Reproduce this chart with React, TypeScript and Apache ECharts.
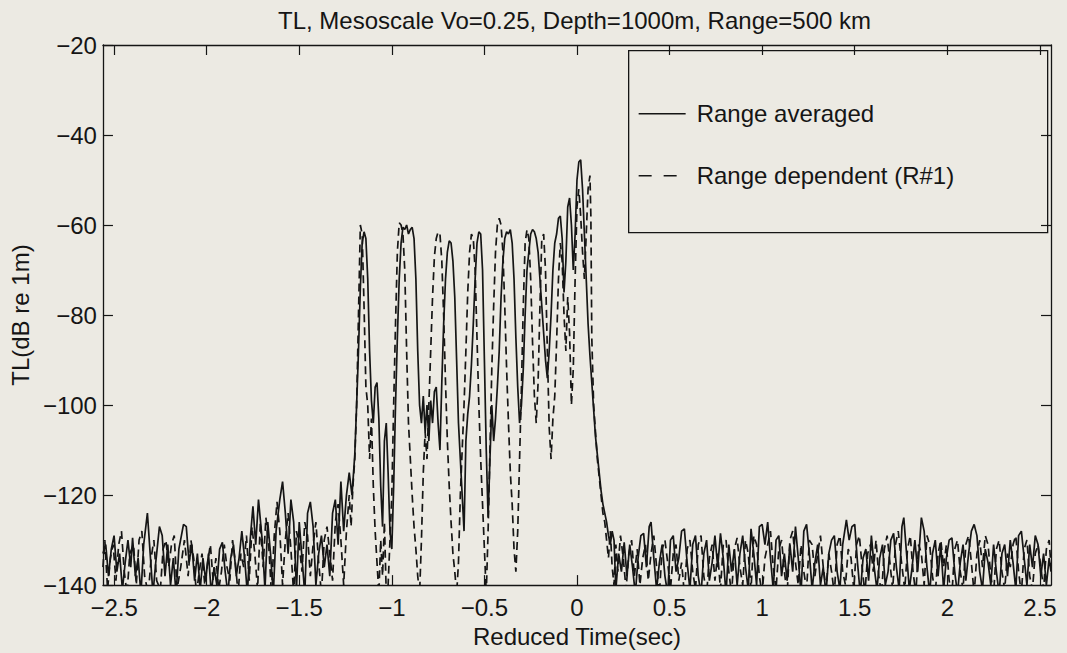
import React, { useEffect, useRef } from "react";
import * as echarts from "echarts";

const titleText = "TL, Mesoscale Vo=0.25, Depth=1000m, Range=500 km";
const xName = "Reduced Time(sec)";
const yName = "TL(dB re 1m)";
const seriesNames = ["Range averaged", "Range dependent (R#1)"];
const xTicks = [-2.5, -2, -1.5, -1, -0.5, 0, 0.5, 1, 1.5, 2, 2.5];
const yTicks = [-140, -120, -100, -80, -60, -40, -20];

// Range averaged (solid)
const rangeAveraged: [number, number][] = [
  [-2.56, -133], [-2.545, -131], [-2.53, -138], [-2.515, -132], [-2.5, -129], [-2.485, -137], [-2.47, -133],
  [-2.455, -141], [-2.44, -135], [-2.425, -130], [-2.41, -136], [-2.4, -129.5], [-2.385, -138], [-2.37, -134],
  [-2.355, -142], [-2.34, -131], [-2.32, -124], [-2.305, -133], [-2.29, -142], [-2.275, -135], [-2.255, -127],
  [-2.24, -129], [-2.225, -138], [-2.21, -131], [-2.195, -140], [-2.18, -134], [-2.165, -142], [-2.15, -132],
  [-2.125, -126.5], [-2.11, -127], [-2.095, -135], [-2.08, -131], [-2.065, -139], [-2.05, -133], [-2.035, -141],
  [-2.02, -134], [-2.005, -139], [-1.99, -133], [-1.975, -142], [-1.96, -136], [-1.945, -140], [-1.93, -132],
  [-1.915, -130.5], [-1.9, -137], [-1.885, -142], [-1.87, -134], [-1.855, -131], [-1.84, -138], [-1.825, -134],
  [-1.81, -128], [-1.795, -134], [-1.78, -142], [-1.765, -130], [-1.75, -122.5], [-1.735, -131], [-1.72, -121],
  [-1.7, -130], [-1.685, -141], [-1.67, -126], [-1.655, -133], [-1.64, -142], [-1.625, -128], [-1.605, -121],
  [-1.59, -117], [-1.575, -124], [-1.56, -133], [-1.545, -121], [-1.53, -126], [-1.515, -141], [-1.5, -126],
  [-1.485, -134], [-1.47, -142], [-1.455, -124], [-1.44, -121.5], [-1.425, -127], [-1.41, -140], [-1.395, -133],
  [-1.38, -129], [-1.365, -136], [-1.35, -131], [-1.335, -138], [-1.32, -124], [-1.305, -121], [-1.29, -131],
  [-1.275, -117], [-1.26, -128], [-1.245, -120], [-1.23, -115], [-1.215, -120], [-1.2, -111], [-1.19, -100],
  [-1.18, -88], [-1.17, -74], [-1.16, -64], [-1.15, -61.5], [-1.14, -63], [-1.13, -72], [-1.12, -88],
  [-1.11, -99], [-1.1, -104], [-1.09, -96], [-1.08, -95], [-1.07, -103], [-1.06, -118], [-1.05, -127],
  [-1.04, -108], [-1.03, -104], [-1.02, -115], [-1.01, -128], [-1.0, -132], [-0.99, -118], [-0.98, -100],
  [-0.97, -85], [-0.96, -72], [-0.95, -64], [-0.94, -60.5], [-0.93, -61], [-0.92, -60], [-0.91, -62],
  [-0.9, -61], [-0.89, -60.5], [-0.88, -63], [-0.87, -72], [-0.86, -88], [-0.85, -100], [-0.84, -104],
  [-0.83, -98], [-0.82, -106], [-0.81, -100], [-0.8, -108], [-0.79, -99], [-0.78, -104], [-0.77, -97],
  [-0.76, -96], [-0.75, -104], [-0.74, -110], [-0.73, -95], [-0.72, -82], [-0.71, -72], [-0.7, -66],
  [-0.69, -63.5], [-0.68, -64], [-0.67, -68], [-0.66, -76], [-0.65, -90], [-0.64, -104], [-0.63, -112],
  [-0.62, -120], [-0.61, -128], [-0.6, -108], [-0.59, -102], [-0.58, -98], [-0.57, -91], [-0.56, -82],
  [-0.55, -72], [-0.54, -64], [-0.53, -61.5], [-0.52, -62], [-0.51, -70], [-0.5, -90], [-0.49, -110],
  [-0.48, -125], [-0.47, -112], [-0.46, -100], [-0.45, -108], [-0.44, -103], [-0.43, -96], [-0.42, -88],
  [-0.41, -76], [-0.4, -68], [-0.39, -63], [-0.38, -61.5], [-0.37, -62], [-0.36, -61], [-0.35, -64],
  [-0.34, -72], [-0.33, -85], [-0.32, -96], [-0.31, -104], [-0.3, -100], [-0.29, -92], [-0.28, -80],
  [-0.27, -70], [-0.26, -66], [-0.25, -62], [-0.24, -61], [-0.23, -61.5], [-0.22, -63], [-0.21, -66],
  [-0.2, -72], [-0.19, -78], [-0.18, -84], [-0.17, -90], [-0.16, -94], [-0.15, -88], [-0.14, -80],
  [-0.13, -70], [-0.12, -64], [-0.11, -62], [-0.1, -58.5], [-0.09, -58], [-0.08, -63], [-0.07, -75],
  [-0.06, -68], [-0.05, -56], [-0.04, -54], [-0.03, -60], [-0.02, -70], [-0.01, -62], [0.0, -50],
  [0.01, -46], [0.02, -45.5], [0.03, -52], [0.04, -62], [0.05, -72], [0.06, -82], [0.07, -89],
  [0.08, -95], [0.09, -101], [0.1, -107], [0.11, -111], [0.12, -115], [0.13, -119], [0.14, -122],
  [0.15, -124], [0.16, -126], [0.17, -129], [0.18, -131], [0.19, -128], [0.2, -130], [0.21, -141],
  [0.225, -133], [0.24, -137], [0.255, -130.5], [0.27, -138], [0.285, -131], [0.3, -136], [0.315, -142],
  [0.33, -134], [0.345, -129], [0.36, -128.5], [0.375, -136], [0.39, -127], [0.4, -126], [0.415, -134],
  [0.43, -141], [0.445, -135], [0.46, -131], [0.475, -138], [0.49, -142], [0.505, -130], [0.52, -129],
  [0.535, -137], [0.55, -134], [0.565, -128], [0.58, -127.5], [0.595, -135], [0.61, -141], [0.625, -131],
  [0.64, -129], [0.655, -138], [0.67, -142], [0.685, -133], [0.7, -130], [0.715, -139], [0.73, -135],
  [0.745, -129], [0.76, -136], [0.775, -128.5], [0.79, -134], [0.805, -142], [0.82, -131], [0.835, -137],
  [0.85, -132], [0.865, -140], [0.88, -133], [0.895, -129], [0.91, -136], [0.925, -141], [0.94, -127.5],
  [0.955, -133], [0.97, -140], [0.985, -127], [1.0, -126.5], [1.015, -131], [1.03, -126], [1.045, -134],
  [1.06, -141], [1.075, -130], [1.09, -129], [1.105, -138], [1.12, -133], [1.135, -139], [1.15, -131],
  [1.165, -137], [1.18, -127], [1.195, -134], [1.21, -142], [1.225, -128], [1.24, -126.5], [1.255, -133],
  [1.27, -141], [1.285, -135], [1.3, -131], [1.315, -140], [1.33, -136], [1.345, -142], [1.36, -133],
  [1.375, -130], [1.39, -129], [1.405, -137], [1.42, -141], [1.435, -131], [1.455, -125.5], [1.47, -130],
  [1.485, -127], [1.5, -126.5], [1.515, -135], [1.53, -142], [1.545, -134], [1.56, -132], [1.575, -139],
  [1.59, -129], [1.605, -136], [1.62, -141], [1.635, -134], [1.65, -131], [1.665, -140], [1.68, -137],
  [1.695, -130], [1.71, -128.5], [1.725, -136], [1.74, -141], [1.755, -127], [1.765, -125], [1.78, -133],
  [1.795, -141], [1.81, -136], [1.825, -130], [1.84, -137], [1.86, -125], [1.875, -128], [1.89, -136],
  [1.905, -142], [1.92, -133], [1.935, -130], [1.95, -138], [1.965, -131], [1.98, -141], [1.995, -134],
  [2.01, -130], [2.025, -129.5], [2.04, -137], [2.055, -142], [2.07, -135], [2.085, -131], [2.1, -139],
  [2.115, -133], [2.13, -128], [2.145, -126.5], [2.16, -129], [2.175, -137], [2.19, -141], [2.205, -132],
  [2.22, -135], [2.235, -140], [2.25, -131], [2.265, -137], [2.28, -142], [2.295, -133], [2.31, -131],
  [2.325, -138], [2.34, -130], [2.355, -135], [2.37, -141], [2.385, -129], [2.4, -128], [2.415, -134],
  [2.43, -140], [2.445, -131], [2.46, -136], [2.475, -129], [2.49, -131], [2.505, -138], [2.52, -133],
  [2.535, -140], [2.55, -134], [2.56, -137],
];

// Range dependent (R#1) (dashed)
const rangeDependent: [number, number][] = [
  [-2.56, -136], [-2.55, -130], [-2.535, -141], [-2.52, -134], [-2.505, -131], [-2.49, -139], [-2.475, -131],
  [-2.46, -128], [-2.445, -137], [-2.43, -142], [-2.415, -133], [-2.395, -131], [-2.38, -140], [-2.365, -130],
  [-2.35, -128], [-2.335, -138], [-2.315, -142], [-2.3, -134], [-2.285, -130], [-2.27, -139], [-2.25, -141],
  [-2.235, -132], [-2.22, -130], [-2.205, -136], [-2.19, -131], [-2.175, -129], [-2.16, -141], [-2.14, -136],
  [-2.12, -130], [-2.1, -138], [-2.085, -130], [-2.07, -134], [-2.055, -142], [-2.04, -137], [-2.025, -133],
  [-2.01, -140], [-1.995, -135], [-1.98, -131], [-1.965, -139], [-1.95, -134], [-1.935, -141], [-1.92, -137],
  [-1.905, -131], [-1.89, -136], [-1.875, -139], [-1.86, -130], [-1.845, -135], [-1.83, -142], [-1.815, -133],
  [-1.8, -136], [-1.785, -129], [-1.77, -139], [-1.755, -127], [-1.74, -133], [-1.725, -141], [-1.71, -126],
  [-1.695, -136], [-1.68, -125], [-1.665, -131], [-1.65, -142], [-1.635, -129], [-1.62, -121.5], [-1.605, -128],
  [-1.59, -140], [-1.575, -130], [-1.56, -124], [-1.545, -132], [-1.53, -142], [-1.515, -128], [-1.5, -131],
  [-1.485, -137], [-1.47, -126], [-1.455, -129], [-1.44, -138], [-1.425, -131], [-1.41, -126], [-1.395, -135],
  [-1.38, -142], [-1.365, -130], [-1.35, -127], [-1.335, -133], [-1.32, -139], [-1.305, -126], [-1.29, -122],
  [-1.275, -130], [-1.26, -140], [-1.245, -128], [-1.23, -120], [-1.22, -127], [-1.21, -118], [-1.2, -112],
  [-1.19, -100], [-1.18, -80], [-1.17, -60], [-1.16, -62], [-1.15, -78], [-1.14, -96], [-1.13, -100],
  [-1.12, -112], [-1.11, -103], [-1.1, -118], [-1.09, -128], [-1.08, -135], [-1.07, -142], [-1.06, -130],
  [-1.05, -138], [-1.04, -126], [-1.03, -142], [-1.02, -140], [-1.01, -130], [-1.0, -120], [-0.99, -100],
  [-0.98, -82], [-0.97, -66], [-0.96, -59.5], [-0.95, -60], [-0.94, -62], [-0.93, -70], [-0.92, -88],
  [-0.91, -104], [-0.9, -112], [-0.89, -120], [-0.88, -127], [-0.87, -132], [-0.86, -138], [-0.85, -142],
  [-0.84, -130], [-0.83, -115], [-0.82, -106], [-0.81, -112], [-0.8, -100], [-0.79, -88], [-0.78, -76],
  [-0.77, -67], [-0.76, -63], [-0.75, -61.5], [-0.74, -62], [-0.73, -68], [-0.72, -80], [-0.71, -95],
  [-0.7, -108], [-0.69, -118], [-0.68, -126], [-0.67, -133], [-0.66, -137], [-0.65, -142], [-0.64, -135],
  [-0.63, -120], [-0.62, -110], [-0.61, -100], [-0.6, -88], [-0.59, -75], [-0.58, -66], [-0.57, -62],
  [-0.56, -63], [-0.55, -70], [-0.54, -85], [-0.53, -100], [-0.52, -112], [-0.51, -122], [-0.5, -132],
  [-0.49, -142], [-0.48, -128], [-0.47, -110], [-0.46, -92], [-0.45, -78], [-0.44, -66], [-0.43, -60],
  [-0.42, -58.5], [-0.41, -60], [-0.4, -66], [-0.39, -78], [-0.38, -92], [-0.37, -104], [-0.36, -115],
  [-0.35, -122], [-0.34, -132], [-0.33, -137], [-0.32, -128], [-0.31, -112], [-0.3, -96], [-0.29, -78],
  [-0.28, -64], [-0.27, -61], [-0.26, -63], [-0.25, -72], [-0.24, -86], [-0.23, -98], [-0.22, -104],
  [-0.21, -95], [-0.2, -78], [-0.19, -63], [-0.18, -62], [-0.17, -70], [-0.16, -88], [-0.15, -105],
  [-0.14, -112], [-0.13, -103], [-0.12, -98], [-0.11, -86], [-0.1, -72], [-0.09, -64], [-0.08, -68],
  [-0.07, -80], [-0.06, -88], [-0.05, -76], [-0.04, -84], [-0.03, -100], [-0.02, -92], [-0.01, -72],
  [0.0, -56], [0.01, -52], [0.02, -58], [0.03, -66], [0.04, -72], [0.05, -62], [0.06, -52],
  [0.07, -49], [0.075, -58], [0.08, -85], [0.09, -100], [0.1, -106], [0.11, -112], [0.12, -116],
  [0.13, -120], [0.14, -124], [0.15, -126], [0.16, -130], [0.17, -134], [0.18, -128], [0.19, -136],
  [0.2, -140], [0.21, -131], [0.22, -137], [0.235, -129], [0.25, -134], [0.265, -141], [0.28, -133],
  [0.295, -130], [0.31, -138], [0.325, -132], [0.34, -140], [0.355, -134], [0.37, -131], [0.385, -139],
  [0.4, -133], [0.415, -129], [0.43, -136], [0.445, -142], [0.46, -132], [0.475, -130], [0.49, -135],
  [0.505, -141], [0.52, -133], [0.535, -131], [0.55, -139], [0.565, -135], [0.58, -142], [0.595, -132],
  [0.61, -130], [0.625, -137], [0.64, -141], [0.655, -131], [0.67, -129], [0.685, -138], [0.7, -142],
  [0.715, -134], [0.73, -131], [0.745, -139], [0.76, -133], [0.775, -141], [0.79, -131], [0.805, -130],
  [0.82, -137], [0.835, -142], [0.85, -132], [0.865, -129.5], [0.88, -136], [0.895, -140], [0.91, -130],
  [0.925, -133], [0.94, -141], [0.955, -129], [0.97, -131], [0.985, -138], [1.0, -142], [1.015, -134],
  [1.03, -131], [1.045, -128], [1.06, -136], [1.075, -141], [1.09, -132], [1.105, -130], [1.12, -137],
  [1.135, -142], [1.15, -130], [1.165, -128], [1.18, -135], [1.195, -140], [1.21, -131], [1.225, -137],
  [1.24, -141], [1.255, -130], [1.27, -131], [1.285, -138], [1.3, -133], [1.315, -129], [1.33, -136],
  [1.345, -141], [1.36, -133], [1.375, -137], [1.39, -142], [1.405, -131], [1.42, -129], [1.435, -137],
  [1.45, -140], [1.465, -132], [1.48, -134], [1.495, -141], [1.51, -131], [1.525, -129], [1.54, -136],
  [1.555, -142], [1.57, -133], [1.585, -131], [1.6, -137], [1.615, -130], [1.63, -138], [1.645, -142],
  [1.66, -132], [1.675, -129], [1.69, -135], [1.705, -141], [1.72, -131], [1.735, -128], [1.75, -134],
  [1.77, -141], [1.785, -132], [1.8, -129], [1.815, -137], [1.83, -142], [1.845, -131], [1.86, -133],
  [1.875, -140], [1.89, -129], [1.905, -131], [1.92, -138], [1.935, -142], [1.95, -133], [1.965, -130],
  [1.98, -136], [1.995, -131], [2.01, -139], [2.025, -142], [2.04, -132], [2.055, -130], [2.07, -137],
  [2.085, -141], [2.1, -131], [2.115, -129], [2.13, -135], [2.145, -142], [2.16, -133], [2.175, -130],
  [2.19, -136], [2.205, -129], [2.22, -131], [2.235, -138], [2.25, -142], [2.265, -132], [2.28, -130],
  [2.295, -137], [2.31, -141], [2.325, -133], [2.34, -136], [2.355, -131], [2.37, -129], [2.385, -137],
  [2.4, -142], [2.415, -132], [2.43, -130], [2.445, -138], [2.46, -141], [2.475, -133], [2.49, -131],
  [2.505, -136], [2.52, -141], [2.535, -132], [2.55, -130], [2.56, -136],
];

const FONT = "'Liberation Sans', Arial, Helvetica, sans-serif";
const INK = "#151515";
const BG = "#eceae3";
const fmt = (v: number) => String(v).replace("-", "\u2212");

export default function App() {
  const ref = useRef<HTMLDivElement>(null);
  useEffect(() => {
    if (!ref.current) return;
    const chart = echarts.init(ref.current, null, { renderer: "svg" });
    const xCommon = {
      type: "value" as const,
      min: -2.56,
      max: 2.56,
      splitLine: { show: false },
      axisLine: { show: true, onZero: false, lineStyle: { color: INK, width: 1.3 } },
      axisTick: { show: true, inside: true, length: 10, customValues: xTicks, lineStyle: { color: INK, width: 1.2 } },
    };
    const yCommon = {
      type: "value" as const,
      min: yTicks[0],
      max: yTicks[yTicks.length - 1],
      interval: 20,
      splitLine: { show: false },
      axisLine: { show: true, onZero: false, lineStyle: { color: INK, width: 1.3 } },
      axisTick: { show: true, inside: true, length: 10, lineStyle: { color: INK, width: 1.2 } },
    };
    chart.setOption({
      animation: false,
      backgroundColor: BG,
      textStyle: { fontFamily: FONT },
      title: {
        text: titleText,
        left: 273,
        top: 3,
        textStyle: { fontFamily: FONT, fontSize: 24, fontWeight: "normal", color: INK },
      },
      grid: { left: 96, right: 16, top: 45, bottom: 65, containLabel: false },
      xAxis: [
        {
          ...xCommon,
          position: "bottom",
          name: xName,
          nameLocation: "middle",
          nameGap: 30,
          nameTextStyle: { fontFamily: FONT, fontSize: 24, color: INK },
          axisLabel: {
            show: true,
            customValues: xTicks,
            margin: 10,
            formatter: fmt,
            fontFamily: FONT,
            fontSize: 24,
            color: INK,
          },
        },
        { ...xCommon, position: "top", axisLabel: { show: false } },
      ],
      yAxis: [
        {
          ...yCommon,
          position: "left",
          name: yName,
          nameLocation: "middle",
          nameGap: 62,
          nameTextStyle: { fontFamily: FONT, fontSize: 24, color: INK },
          axisLabel: { show: true, margin: 6, formatter: fmt, fontFamily: FONT, fontSize: 24, color: INK },
        },
        { ...yCommon, position: "right", axisLabel: { show: false } },
      ],
      series: [
        {
          name: seriesNames[0],
          type: "line",
          data: rangeAveraged,
          showSymbol: false,
          symbol: "none",
          clip: true,
          lineStyle: { color: INK, width: 1.7, type: "solid" },
          z: 3,
        },
        {
          name: seriesNames[1],
          type: "line",
          data: rangeDependent,
          showSymbol: false,
          symbol: "none",
          clip: true,
          lineStyle: { color: INK, width: 1.7, type: [8, 5] },
          z: 2,
        },
      ],
      graphic: [
        {
          type: "group",
          left: 628,
          top: 50,
          z: 100,
          children: [
            {
              type: "rect",
              shape: { x: 0, y: 0, width: 419, height: 182 },
              style: { fill: BG, stroke: INK, lineWidth: 1.3 },
            },
            {
              type: "line",
              shape: { x1: 10, y1: 63, x2: 57, y2: 63 },
              style: { stroke: INK, lineWidth: 1.5 },
            },
            {
              type: "text",
              x: 68,
              y: 63,
              style: { text: seriesNames[0], font: `24px ${FONT}`, fill: INK, verticalAlign: "middle", align: "left" },
            },
            {
              type: "line",
              shape: { x1: 10, y1: 125, x2: 57, y2: 125 },
              style: { stroke: INK, lineWidth: 1.5, lineDash: [13, 12] },
            },
            {
              type: "text",
              x: 68,
              y: 125,
              style: { text: seriesNames[1], font: `24px ${FONT}`, fill: INK, verticalAlign: "middle", align: "left" },
            },
          ],
        },
      ],
    });
    return () => chart.dispose();
  }, []);
  return (
    <div
      ref={ref}
      style={{ position: "fixed", left: 0, top: 0, width: 1067, height: 653 }}
    />
  );
}
